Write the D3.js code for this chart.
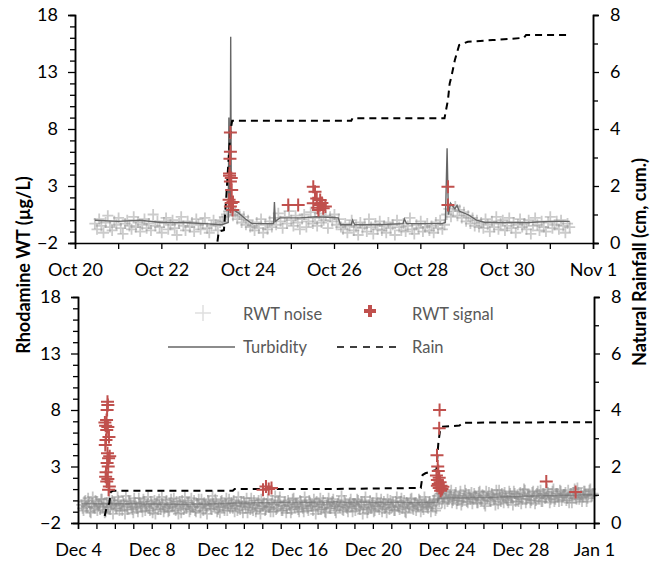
<!DOCTYPE html>
<html>
<head>
<meta charset="utf-8">
<script src="https://cdn.jsdelivr.net/npm/d3@7"></script>
<style>
  html, body { margin: 0; padding: 0; background: #fff; }
  svg text { font-family: Lato, "Open Sans", sans-serif; }
</style>
</head>
<body>
<svg id="chart" width="654" height="563"></svg>
<script>
// ---- Data (days are measured from the panel start: Oct 20 / Dec 4) ----
const topStartDate = new Date(2016, 9, 20);
const botStartDate = new Date(2016, 11, 4);

const topTickDays = [0, 2, 4, 6, 8, 10, 12];
const topTickLabels = ["Oct 20", "Oct 22", "Oct 24", "Oct 26", "Oct 28", "Oct 30", "Nov 1"];
const botTickDays = [0, 4, 8, 12, 16, 20, 24, 28];
const botTickLabels = ["Dec 4", "Dec 8", "Dec 12", "Dec 16", "Dec 20", "Dec 24", "Dec 28", "Jan 1"];

const rwtTicks = [-2, 3, 8, 13, 18];
const rainTicks = [0, 2, 4, 6, 8];

// RWT noise, regular sampling, values in tenths of µg/L
const noiseTopStart = 0.46, noiseTopStep = 0.05;
const noiseTop = (
  "-3,-8,1,-5,-11,-2,4,-6,-9,-1,-4,2,-7,-12,-3,0,-5,-8,3,-6," +
  "-2,-10,-4,1,-7,-3,-9,5,-5,-1,-6,-11,-2,2,-8,-4,0,-7,-13,-3," +
  "3,-5,-9,-1,-6,-2,-10,1,-4,-8,-3,2,-7,-11,-5,0,-4,-9,-2," +
  "-1,3,5,8," +
  "9,4,7,1,5,-2,3,-4,0,-6," +
  "-5,-9,-2,-7,1,-11,-4,-8,-1,-6," +
  "2,-4,6,-1,-7,3,-3,8,0,-5,4,-2,-8,1,5,-6,-1,7,-3,2,-5,6,-2,0,4,-7,3,-1,5,-4,1,-6," +
  "-8,-3,-11,-5,0,-9,-6,-13,-2,-7,-4,-10,1,-6,-12,-3,-8,-1,-9,-5," +
  "-11,-2,-7,-4,-13,0,-6,-9,-3,-10,-5,2,-8,-12,-4,-7,-1,-10,-6,-3,-9,-5,-11,-2,-7,0,-8,-4," +
  "5,10,3,8,12,4,9,2,7,-1,4,-3,2,-5,0,-6," +
  "-2,-7,1,-4,-10,-1,-6,3,-8,-3,0,-9,-5,2,-7,-2,-11,-4,1,-6," +
  "-3,-8,0,-12,-5,2,-4,-9,-1,-6,-10,-2,3,-7,-4,-1,-8,0,-5,-11,-3,-6"
).split(",").map(v => +v / 10);

const noiseBotStart = 0.2, noiseBotStep = 0.1;
const noiseBot = (
  "-4,-9,0,-6,-2,-11,3,-7,-1,-5,-8,1,-3,-10,-6,2,-4,-12,-2,-7," +
  "0,-5,-9,-3,4,-8,-1,-6,-11,-2,-7,2,-4,-10,-1,-5,3,-9,-3,-6," +
  "-12,-2,1,-8,-4,-7,0,-10,-3,-5,2,-9,-6,-1,-11,-4,3,-7,-2,-8," +
  "-5,0,-10,-3,-6,1,-9,-4,-12,-1,-7,4,-5,-2,-8,-11,0,-6,-3,-9," +
  "1,-4,-7,-10,-2,3,-8,-5,-1,-6,-11,-3,2,-9,-4,-7,0,-12,-5,-2," +
  "-8,1,-6,-3,-10,4,-7,-1,-4,-9,-2,-11,0,-5,-8,2,-3,-6,-10,-1," +
  "-7,3,-4,-9,-2,-5,1,-12,-6,-3,-8,0,-10,-4,2,-7,-1,-5,-11,-3," +
  "-6,4,-9,-2,-7,-4,1,-10,-3,-5,0,-8,-1,-6,3,-11,-4,-7,-2,-9," +
  "2,-5,-3,-10,-1,-6,1,-8,-4,-2,-9,3,-6,-1,-7,0,-11,-3,-5,2," +
  "-8,-2,-4,1,-10,-6,3,-3,-7,-1,-5,0,-9," +
  "4,-1,6,2,-3,8,1,5,-2,3,7,0,4,-4,2,9,-1,5,1,-3," +
  "6,3,-2,8,0,4,-5,2,7,-1,5,1,9,-3,3,6,-2,4,0,8," +
  "2,-4,6,3,-1,7,1,10,-2,5,4,0,8,-3,6,2,9,-1,5,3," +
  "7,-2,4,10,1,6,-1,8,3,5,0,9,4,-2,7,2,11,1,6,3,8,-1,5,10,4"
).split(",").map(v => +v / 10);
// second reading at the same sampling times (offset by half a step)
const noiseBot2 = (
  "-7,-1,-5,2,-10,-3,-6,0,-9,-4,1,-6,-11,-2,-5,-8,0,-3,-7,3," +
  "-9,-4,-1,-12,-6,0,-3,-8,2,-5,-10,-2,-6,1,-9,-4,-7,-1,-11,0," +
  "-3,-8,-5,3,-10,-2,-6,-9,1,-4,-7,-1,-12,-3,0,-8,-5,-2,-10,2," +
  "-6,-9,-3,1,-11,-5,-2,-7,0,-4,-8,-3,1,-10,-6,-1,-4,-9,2,-5," +
  "-7,-2,0,-5,-9,-4,-1,-11,-3,2,-6,-8,-4,0,-10,-2,-7,1,-5,-9," +
  "-3,-6,-10,0,-4,-8,-2,3,-9,-5,-1,-7,-4,-11,1,-6,-3,-8,0,-5," +
  "-10,-2,-7,0,-5,-9,-3,-1,-8,2,-4,-6,-11,-2,-7,-3,1,-9,-5,-1," +
  "-4,-8,0,-6,-10,-2,-5,-3,-9,1,-7,-4,-12,-1,-6,-8,0,-3,-10,-5," +
  "-2,-8,1,-4,-7,-11,-3,0,-6,-9,-1,-5,-8,2,-4,-10,-2,-6,1,-7," +
  "-3,-9,-5,0,-4,-8,-1,-6,-2,-10,-4,1,-7," +
  "1,6,-2,4,7,-1,3,9,0,5,-3,2,8,-1,4,6,-2,3,7,1," +
  "4,-2,7,1,5,-3,8,3,0,6,2,-4,5,9,-1,4,7,1,-2,6," +
  "3,8,-1,5,2,-3,6,9,1,4,-2,7,3,0,8,5,-1,6,2,10," +
  "4,1,8,-1,6,3,9,0,5,7,2,-2,6,4,10,1,7,3,-1,8,5,2,9,4,6"
).split(",").map(v => +v / 10);

// RWT signal [day, µg/L]
const signalTop = [
  [3.6,7.7],[3.6,6.0],[3.59,5.4],[3.58,4.1],[3.62,3.7],[3.6,3.4],[3.63,2.65],[3.57,1.8],
  [3.62,1.5],[3.6,1.2],[3.65,0.9],[3.58,3.9],[3.66,1.6],
  [4.94,1.33],[5.17,1.33],
  [5.52,2.94],[5.56,2.5],[5.6,1.9],[5.52,1.48],[5.68,1.33],[5.64,0.9],[5.75,1.05],
  [5.68,1.77],[5.72,1.5],[5.8,1.2],[5.62,1.1],
  [8.64,2.94],[8.64,1.33]
];
const signalBot = [
  [1.6,8.73],[1.62,8.44],[1.58,8.0],[1.55,7.12],[1.5,6.6],[1.62,6.5],[1.56,6.24],[1.52,5.35],
  [1.48,4.9],[1.6,4.18],[1.66,3.74],[1.58,3.3],[1.64,3.0],[1.5,2.1],[1.62,1.9],[1.56,1.67],
  [1.7,1.23],[1.66,0.94],[1.52,2.5],[1.68,5.6],[1.46,6.9],[1.72,3.9],
  [10.04,0.94],[10.5,1.09],[10.2,1.23],[10.35,1.0],
  [19.62,8.0],[19.6,6.38],[19.48,4.0],[19.52,3.0],[19.55,2.6],[19.45,2.2],[19.6,2.0],[19.5,1.8],
  [19.65,1.6],[19.55,1.45],[19.7,1.3],[19.6,1.1],[19.75,1.0],[19.68,0.85],[19.5,1.3],[19.8,1.2],
  [25.41,1.67],[27.0,0.74]
];

// Turbidity trace [day, value on RWT axis]
const turbTop = [
  [0.46,0.0],[1.0,-0.1],[1.5,0.0],[2.0,-0.2],[2.5,-0.2],[3.0,-0.3],[3.4,-0.4],[3.55,-0.2],
  [3.565,9.0],[3.58,1.2],[3.595,2.5],[3.607,16.1],[3.62,1.6],[3.68,0.9],[3.8,0.6],[3.95,0.1],
  [4.1,-0.3],[4.6,-0.3],[4.62,1.6],[4.64,-0.1],[4.75,0.2],[5.2,0.2],[5.6,0.3],[6.1,0.2],
  [6.15,-0.4],[6.4,-0.4],[6.43,0.0],[6.48,-0.4],[7.0,-0.4],[7.6,-0.3],[7.63,0.1],[7.68,-0.3],
  [8.5,-0.3],[8.58,-0.2],[8.62,6.3],[8.65,0.5],[8.7,1.5],[8.8,1.0],[8.85,1.3],[8.9,0.8],
  [9.1,0.5],[9.3,0.0],[9.5,-0.2],[10,-0.2],[10.5,-0.2],[11,-0.1],[11.46,-0.1]
];
const turbBot = [
  [0.2,-0.3],[3,-0.3],[6,-0.35],[10,-0.2],[14,-0.15],[19.5,-0.2],[19.55,0.2],[22,0.25],[25,0.4],[27.9,0.5]
];

// Cumulative rain [day, cm]
const rainTop = [
  [3.3,0.05],[3.33,0.4],[3.45,0.45],[3.5,1.5],[3.56,3.0],[3.6,3.9],[3.64,4.29],[6.4,4.29],
  [6.43,4.38],[8.56,4.38],[8.6,4.7],[8.64,5.02],[8.68,5.6],[8.72,5.84],[8.8,6.42],[8.9,6.95],
  [9.1,7.06],[9.68,7.12],[10.4,7.2],[10.45,7.3],[11.38,7.3]
];
const rainBot = [
  [1.45,0.25],[1.55,0.55],[1.7,0.7],[1.78,1.1],[1.9,1.14],[8.4,1.14],[8.5,1.2],[13,1.2],
  [18.6,1.24],[18.7,1.7],[18.85,1.76],[19.45,1.88],[19.55,2.8],[19.65,3.3],[19.75,3.41],
  [20.7,3.45],[20.9,3.55],[27.95,3.57]
];

// ---- Drawing ----
const svg = d3.select("#chart");
svg.append("rect").attr("width", 654).attr("height", 563).attr("fill", "#fff");

const DAY = 864e5;
const COLORS = { noise: "#8c8c8c", signal: "#c0504d", turb: "#666666", rain: "#000" };
const crossPath = h => `M${-h},0H${h}M0,${-h}V${h}`;

function panel(cfg) {
  const g = svg.append("g");
  const toDate = d => new Date(cfg.start.getTime() + d * DAY);
  const x = d3.scaleTime().domain([toDate(0), toDate(cfg.nDays)]).range([cfg.x0, cfg.x1]);
  const y = d3.scaleLinear().domain([-2, 18]).range([cfg.y1, cfg.y0]);
  const yR = d3.scaleLinear().domain([0, 8]).range([cfg.y1, cfg.y0]);

  // noise crosses
  const noisePts = [];
  cfg.noise.forEach((series, k) => series.forEach((v, i) =>
    noisePts.push([cfg.noiseStart + (i + k / 2) * cfg.noiseStep, v])));
  g.append("g").selectAll("path").data(noisePts).join("path")
    .attr("d", crossPath(5.5))
    .attr("transform", d => `translate(${x(toDate(d[0]))},${y(d[1])})`)
    .attr("stroke", COLORS.noise).attr("stroke-width", 1.8).attr("stroke-opacity", cfg.noiseOpacity)
    .attr("fill", "none");

  // turbidity
  const lineL = d3.line().x(d => x(toDate(d[0]))).y(d => y(d[1]));
  g.append("path").datum(cfg.turb).attr("d", lineL)
    .attr("fill", "none").attr("stroke", COLORS.turb).attr("stroke-width", 1.4)
    .attr("stroke-opacity", cfg.turbOpacity);

  // rain
  const lineR = d3.line().x(d => x(toDate(d[0]))).y(d => yR(d[1]));
  g.append("path").datum(cfg.rain).attr("d", lineR)
    .attr("fill", "none").attr("stroke", COLORS.rain).attr("stroke-width", 2)
    .attr("stroke-dasharray", "7,5");

  // signal crosses
  g.append("g").selectAll("path").data(cfg.signal).join("path")
    .attr("d", crossPath(6.5))
    .attr("transform", d => `translate(${x(toDate(d[0]))},${y(d[1])})`)
    .attr("stroke", COLORS.signal).attr("stroke-width", 2).attr("fill", "none");

  // axes
  const axisStyle = sel => {
    sel.selectAll(".domain").attr("stroke", "#000").attr("stroke-width", 1.5);
    sel.selectAll(".tick line").attr("stroke", "#000").attr("stroke-width", 1.3);
    sel.selectAll("text").attr("font-family", "Lato, sans-serif").attr("font-size", 18).attr("fill", "#000");
  };
  // x ticks every day
  const dayTicks = d3.range(0, cfg.nDays + 1).map(toDate);
  g.append("g").attr("transform", `translate(0,${cfg.y1})`)
    .call(d3.axisBottom(x).tickValues(dayTicks).tickSize(6).tickFormat(""))
    .call(axisStyle);
  const xl = g.append("g").attr("transform", `translate(0,${cfg.y1})`)
    .call(d3.axisBottom(x).tickValues(cfg.tickDays.map(toDate)).tickSize(0).tickPadding(20)
      .tickFormat((d, i) => cfg.tickLabels[i]))
    .call(axisStyle);
  xl.select(".domain").remove();

  // left axis
  const minorL = d3.range(-2, 19).filter(v => !rwtTicks.includes(v));
  g.append("g").attr("transform", `translate(${cfg.x0},0)`)
    .call(d3.axisLeft(y).tickValues(minorL).tickSize(5).tickFormat(""))
    .call(axisStyle);
  g.append("g").attr("transform", `translate(${cfg.x0},0)`)
    .call(d3.axisLeft(y).tickValues(rwtTicks).tickSize(7).tickPadding(10).tickFormat(d3.format("d")))
    .call(axisStyle);

  // right axis
  g.append("g").attr("transform", `translate(${cfg.x1},0)`)
    .call(d3.axisRight(yR).tickValues([1, 3, 5, 7]).tickSize(5).tickFormat(""))
    .call(axisStyle);
  g.append("g").attr("transform", `translate(${cfg.x1},0)`)
    .call(d3.axisRight(yR).tickValues(rainTicks).tickSize(6).tickPadding(11).tickFormat(d3.format("d")))
    .call(axisStyle);
}

panel({
  start: topStartDate, nDays: 12, x0: 75, x1: 593, y0: 15, y1: 243,
  tickDays: topTickDays, tickLabels: topTickLabels,
  noise: [noiseTop], noiseStart: noiseTopStart, noiseStep: noiseTopStep, noiseOpacity: 0.45,
  turbOpacity: 1,
  signal: signalTop, turb: turbTop, rain: rainTop
});
panel({
  start: botStartDate, nDays: 28, x0: 78, x1: 594, y0: 297, y1: 523,
  tickDays: botTickDays, tickLabels: botTickLabels,
  noise: [noiseBot, noiseBot2], noiseStart: noiseBotStart, noiseStep: noiseBotStep, noiseOpacity: 0.5,
  turbOpacity: 0.5,
  signal: signalBot, turb: turbBot, rain: rainBot
});

// axis titles
svg.append("text").attr("transform", "translate(30,265) rotate(-90)")
  .attr("text-anchor", "middle").attr("font-size", 18).attr("font-weight", "bold")
  .text("Rhodamine WT (µg/L)");
svg.append("text").attr("transform", "translate(646,262) rotate(-90)")
  .attr("text-anchor", "middle").attr("font-size", 18).attr("font-weight", "bold")
  .text("Natural Rainfall (cm, cum.)");

// legend
const leg = svg.append("g");
const legText = (x, y, t) => leg.append("text").attr("x", x).attr("y", y)
  .attr("font-size", 16.5).attr("fill", "#595959").text(t);
leg.append("path").attr("d", crossPath(8)).attr("transform", "translate(203,313)")
  .attr("stroke", "#e0e0e0").attr("stroke-width", 1.5).attr("fill", "none");
legText(243, 320, "RWT noise");
leg.append("path").attr("d", crossPath(6)).attr("transform", "translate(370,311)")
  .attr("stroke", COLORS.signal).attr("stroke-width", 4).attr("fill", "none");
legText(412, 320, "RWT signal");
leg.append("line").attr("x1", 168).attr("x2", 235).attr("y1", 347).attr("y2", 347)
  .attr("stroke", COLORS.turb).attr("stroke-width", 1.6);
legText(243, 353, "Turbidity");
leg.append("line").attr("x1", 337).attr("x2", 399).attr("y1", 347).attr("y2", 347)
  .attr("stroke", COLORS.rain).attr("stroke-width", 1.6).attr("stroke-dasharray", "7,6");
legText(412, 353, "Rain");
</script>
</body>
</html>
